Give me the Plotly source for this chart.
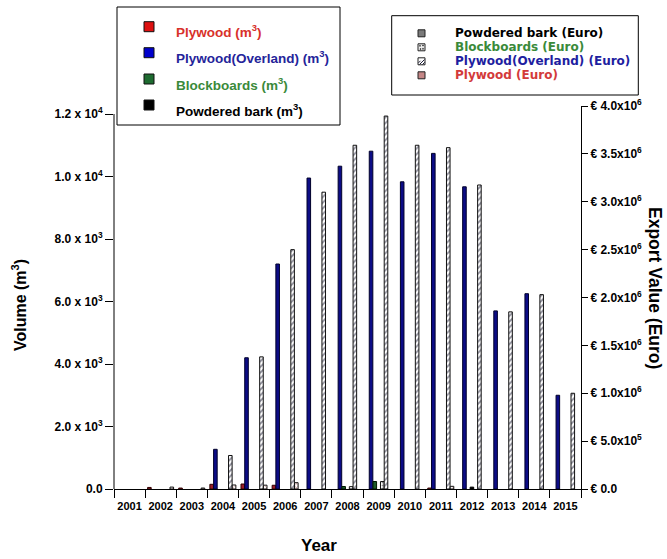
import plotly.graph_objects as go

# ---- data -------------------------------------------------------------
years = ["2001", "2002", "2003", "2004", "2005", "2006", "2007", "2008",
         "2009", "2010", "2011", "2012", "2013", "2014", "2015"]

# export volumes (m3)
plywood_m3 = [0, 50, 30, 150, 160, 120, 0, 0, 0, 0, 30, 0, 0, 0, 0]
overland_m3 = [0, 0, 0, 1270, 4200, 7200, 9950, 10330, 10810, 9830, 10740,
               9670, 5700, 6250, 3000]
blockboards_m3 = [0, 0, 0, 0, 0, 0, 0, 80, 240, 0, 0, 0, 0, 0, 0]
bark_m3 = [0, 0, 0, 0, 0, 0, 0, 0, 0, 0, 0, 60, 0, 0, 0]

# export values (Euro)
blockboards_eur = [0, 0, 0, 0, 0, 0, 0, 25000, 78000, 0, 0, 0, 0, 0, 0]
overland_eur = [0, 0, 0, 350000, 1380000, 2500000, 3100000, 3590000, 3895000,
                3590000, 3565000, 3175000, 1850000, 2030000, 1000000]
plywood_eur = [0, 20000, 10000, 42000, 40000, 66000, 0, 0, 0, 0, 28000, 0, 0, 0, 0]
bark_eur = [0, 0, 0, 0, 0, 0, 0, 0, 0, 0, 0, 0, 0, 0, 0]

vol_ticks = [0, 2000, 4000, 6000, 8000, 10000, 12000]
vol_ticktext = ["0.0", "2.0 x 10<sup>3</sup>", "4.0 x 10<sup>3</sup>",
                "6.0 x 10<sup>3</sup>", "8.0 x 10<sup>3</sup>",
                "1.0 x 10<sup>4</sup>", "1.2 x 10<sup>4</sup>"]
eur_ticks = [0, 500000, 1000000, 1500000, 2000000, 2500000, 3000000, 3500000, 4000000]
eur_ticktext = ["€ 0.0", "€ 5.0x10<sup>5</sup>", "€ 1.0x10<sup>6</sup>",
                "€ 1.5x10<sup>6</sup>", "€ 2.0x10<sup>6</sup>", "€ 2.5x10<sup>6</sup>",
                "€ 3.0x10<sup>6</sup>", "€ 3.5x10<sup>6</sup>", "€ 4.0x10<sup>6</sup>"]

# ---- geometry (pixels) ------------------------------------------------
W, H = 667, 559
L, R, T, B = 114, 581, 106, 489
VOL_TOP = 12000
VOL_RANGE = VOL_TOP * (B - T) / (B - 114)   # left scale stops at 1.2e4


def fx(px):
    return (px - L) / (R - L)


def fy(py):
    return (B - py) / (B - T)


FONT = "Liberation Sans, Arial, sans-serif"
FONT_WIDE = "DejaVu Sans, Liberation Sans, sans-serif"
BAR_W = 0.115
STEP = 0.12
OFF0 = -0.421

series = [
    dict(y=plywood_m3, ax="y", color="#9a1e28", line="#300000", pat=None),
    dict(y=overland_m3, ax="y", color="#0c0c86", line="#00002a", pat=None),
    dict(y=blockboards_m3, ax="y", color="#1c5a2a", line="#001800", pat=None),
    dict(y=bark_m3, ax="y", color="#000000", line="#000000", pat=None),
    dict(y=blockboards_eur, ax="y2", color="white", line="#111111",
         pat=dict(shape=".", fgcolor="#222222", bgcolor="white", size=3, solidity=0.3)),
    dict(y=overland_eur, ax="y2", color="white", line="#111111",
         pat=dict(shape="/", fgcolor="#14142e", bgcolor="white", size=4, solidity=0.45)),
    dict(y=plywood_eur, ax="y2", color="white", line="#111111",
         pat=dict(shape="x", fgcolor="#a04040", bgcolor="white", size=3, solidity=0.4)),
    dict(y=bark_eur, ax="y2", color="white", line="#000000",
         pat=dict(shape="x", fgcolor="#000000", bgcolor="white", size=3, solidity=0.5)),
]

fig = go.Figure()
for i, s in enumerate(series):
    marker = dict(color=s["color"], line=dict(color=s["line"], width=1))
    if s["pat"]:
        marker["pattern"] = s["pat"]
    fig.add_bar(x=years, y=[v if v else None for v in s["y"]], yaxis=s["ax"],
                width=BAR_W, offset=OFF0 + STEP * i, marker=marker,
                showlegend=False, hoverinfo="x+y")

shapes = [
    # left axis line up to the top tick
    dict(type="line", xref="paper", yref="y", x0=0, x1=0, y0=0, y1=VOL_TOP,
         line=dict(color="black", width=1)),
]


def rect(x0, y0, x1, y1, fill, line="black", lw=1):
    shapes.append(dict(type="rect", xref="paper", yref="paper",
                       x0=fx(x0), x1=fx(x1), y0=fy(y1), y1=fy(y0),
                       fillcolor=fill, line=dict(color=line, width=lw)))


def seg(x0, y0, x1, y1, color, lw=1):
    shapes.append(dict(type="line", xref="paper", yref="paper",
                       x0=fx(x0), x1=fx(x1), y0=fy(y0), y1=fy(y1),
                       line=dict(color=color, width=lw)))


annotations = []


def text(px, py, s, size, color="black", xanchor="left", angle=0, family=FONT):
    annotations.append(dict(xref="paper", yref="paper", x=fx(px), y=fy(py),
                            text=s, showarrow=False, xanchor=xanchor,
                            yanchor="middle", textangle=angle,
                            font=dict(family=family, size=size, color=color,
                                      weight="bold")))


# volume legend
rect(117, 7, 340, 125, "white")
vol_items = [
    ("Plywood (m<sup>3</sup>)", "#d8312a", "#dd1111", 26.7),
    ("Plywood(Overland) (m<sup>3</sup>)", "#24249a", "#0000cc", 52.7),
    ("Blockboards (m<sup>3</sup>)", "#3a8a3a", "#1e6b30", 79),
    ("Powdered bark (m<sup>3</sup>)", "#000000", "#000000", 105),
]
for label, tcol, mcol, yc in vol_items:
    rect(144, yc - 5, 154, yc + 5, mcol, "#111111")
    text(174, yc + 4.5, label, 13.5, tcol)

# value legend
rect(391.7, 15.7, 638.3, 95, "white")
eur_items = [
    ("Powdered bark (Euro)", "#000000", "#7a7a7a", 33.3),
    ("Blockboards (Euro)", "#3a8a3a", "#eeeeee", 47.3),
    ("Plywood(Overland) (Euro)", "#1e1ea0", "white", 61.3),
    ("Plywood (Euro)", "#d33a3a", "#c48686", 75.3),
]
for label, tcol, mcol, yc in eur_items:
    rect(418, yc - 3.5, 425, yc + 3.5, mcol, "#222222")
    text(452.7, yc, label, 12, tcol, family=FONT_WIDE)
# stripes on the overland swatch
yc = eur_items[2][3]
seg(418.5, yc + 1.5, 420.5, yc - 0.5, "#20203a", 1)
seg(419.5, yc + 3.2, 424.5, yc - 1.8, "#20203a", 1)
seg(422.5, yc + 3.2, 424.8, yc + 0.9, "#20203a", 1)
# dots on the blockboards swatch
yc = eur_items[1][3]
for dx, dy in [(420, -1.5), (423, 1.5), (420.5, 1.8), (423, -1.8)]:
    rect(dx - 0.5, yc + dy - 0.5, dx + 0.5, yc + dy + 0.5, "#333333", "#333333", 0.5)

# axis titles
text(19, 305, "Volume (m<sup>3</sup>)", 16, xanchor="center", angle=-90)
text(655, 288, "Export Value (Euro)", 17.5, xanchor="center", angle=90)
text(319, 545, "Year", 17, xanchor="center")

tickfont = dict(family=FONT, size=12, color="black", weight="bold")

fig.update_layout(
    width=W, height=H, autosize=False,
    margin=dict(l=L, r=W - R, t=T, b=H - B, pad=0),
    paper_bgcolor="white", plot_bgcolor="white",
    barmode="overlay", showlegend=False,
    shapes=shapes, annotations=annotations,
    xaxis=dict(type="category", categoryorder="array", categoryarray=years,
               range=[-0.5, len(years) - 0.5], tickson="boundaries",
               ticks="outside", ticklen=8, tickwidth=1, tickcolor="black",
               tickangle=0, ticklabelstandoff=7,
               showline=True, linecolor="black", linewidth=1,
               showgrid=False, zeroline=False,
               tickfont=dict(family=FONT, size=11, color="black", weight="bold")),
    yaxis=dict(range=[0, VOL_RANGE], tickvals=vol_ticks, ticktext=vol_ticktext,
               ticks="outside", ticklen=8, tickwidth=1, tickcolor="black",
               showline=False, showgrid=False, zeroline=False, tickfont=tickfont),
    yaxis2=dict(overlaying="y", side="right", range=[0, 4000000],
                tickvals=eur_ticks, ticktext=eur_ticktext,
                ticks="outside", ticklen=6, tickwidth=1, tickcolor="black",
                showline=True, linecolor="black", linewidth=1,
                showgrid=False, zeroline=False, tickfont=tickfont),
)

fig.write_html("out.html")
